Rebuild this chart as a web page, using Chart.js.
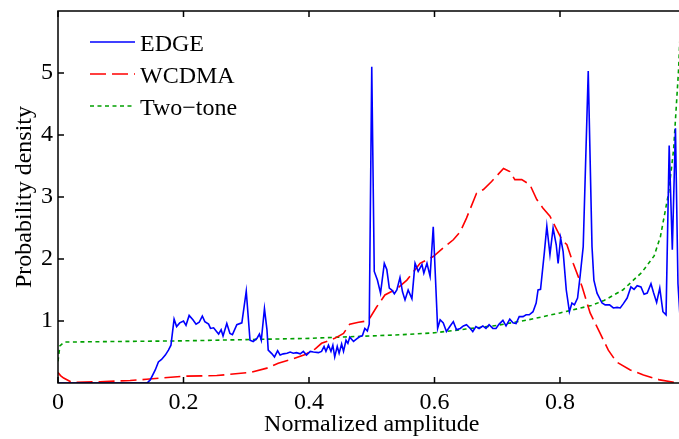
<!DOCTYPE html>
<html>
<head>
<meta charset="utf-8">
<script src="https://cdn.jsdelivr.net/npm/chart.js@4.4.1/dist/chart.umd.min.js"></script>
<style>
  html, body { margin: 0; padding: 0; background: #fff; overflow: hidden; width: 679px; height: 439px; }
  canvas { display: block; }
</style>
</head>
<body>
<canvas id="c" width="700" height="439"></canvas>
<script>
// Amplitude probability density of three test signals: [normalized amplitude, density]
const edgePdf = [
  [0, 0], [0.142, 0], [0.147, 0.05], [0.155, 0.21], [0.160, 0.34], [0.165, 0.38], [0.171, 0.45],
  [0.176, 0.53], [0.180, 0.61], [0.185, 1.03], [0.189, 0.91], [0.194, 0.97], [0.200, 1.00],
  [0.204, 0.93], [0.209, 1.09], [0.215, 1.02], [0.220, 0.95], [0.225, 0.98], [0.230, 1.08],
  [0.234, 0.99], [0.240, 0.95], [0.243, 0.88], [0.248, 0.89], [0.252, 0.84], [0.256, 0.79],
  [0.260, 0.86], [0.263, 0.76], [0.269, 0.96], [0.274, 0.80], [0.278, 0.78], [0.285, 0.94],
  [0.293, 0.97], [0.300, 1.48], [0.306, 0.69], [0.311, 0.67], [0.317, 0.72], [0.321, 0.79],
  [0.324, 0.69], [0.329, 1.20], [0.333, 0.86], [0.335, 0.53], [0.341, 0.47], [0.345, 0.42],
  [0.350, 0.52], [0.354, 0.45], [0.359, 0.47], [0.365, 0.48], [0.370, 0.50], [0.375, 0.48],
  [0.380, 0.49], [0.386, 0.47], [0.391, 0.51], [0.396, 0.45], [0.402, 0.51], [0.407, 0.50],
  [0.415, 0.49], [0.420, 0.51], [0.424, 0.59], [0.427, 0.51], [0.431, 0.61], [0.435, 0.51],
  [0.438, 0.61], [0.441, 0.42], [0.445, 0.59], [0.448, 0.48], [0.452, 0.63], [0.455, 0.51],
  [0.459, 0.69], [0.462, 0.64], [0.465, 0.74], [0.471, 0.67], [0.476, 0.71], [0.481, 0.75],
  [0.485, 0.76], [0.489, 0.88], [0.493, 0.84], [0.496, 0.95], [0.500, 5.10], [0.504, 1.80],
  [0.509, 1.66], [0.514, 1.45], [0.520, 1.93], [0.524, 1.83], [0.528, 1.53], [0.532, 1.50],
  [0.536, 1.44], [0.540, 1.50], [0.545, 1.70], [0.549, 1.47], [0.553, 1.34], [0.558, 1.50],
  [0.564, 1.36], [0.569, 1.93], [0.574, 1.80], [0.580, 1.91], [0.583, 1.77], [0.588, 1.93],
  [0.593, 1.72], [0.598, 2.52], [0.605, 0.88], [0.609, 1.02], [0.614, 0.97], [0.619, 0.83],
  [0.625, 0.92], [0.630, 0.99], [0.635, 0.86], [0.641, 0.88], [0.646, 0.92], [0.651, 0.94],
  [0.657, 0.88], [0.661, 0.83], [0.666, 0.91], [0.671, 0.88], [0.677, 0.92], [0.682, 0.88],
  [0.687, 0.94], [0.693, 0.88], [0.698, 0.88], [0.703, 0.95], [0.709, 1.01], [0.714, 0.92],
  [0.720, 1.03], [0.725, 0.97], [0.730, 0.96], [0.735, 1.07], [0.741, 1.07], [0.746, 1.10],
  [0.751, 1.10], [0.757, 1.15], [0.762, 1.29], [0.765, 1.50], [0.769, 1.51], [0.775, 2.10],
  [0.779, 2.53], [0.784, 2.07], [0.789, 2.50], [0.794, 2.23], [0.797, 1.93], [0.801, 2.34],
  [0.805, 2.12], [0.810, 1.50], [0.815, 1.15], [0.819, 1.29], [0.823, 1.26], [0.828, 1.37],
  [0.832, 1.72], [0.837, 2.20], [0.845, 5.03], [0.851, 2.20], [0.854, 1.66], [0.859, 1.45],
  [0.867, 1.29], [0.872, 1.26], [0.879, 1.26], [0.885, 1.21], [0.891, 1.22], [0.896, 1.21],
  [0.901, 1.28], [0.907, 1.37], [0.913, 1.55], [0.918, 1.51], [0.923, 1.57], [0.929, 1.55],
  [0.934, 1.43], [0.939, 1.45], [0.945, 1.60], [0.949, 1.46], [0.954, 1.30], [0.959, 1.53],
  [0.964, 1.15], [0.969, 1.10], [0.974, 3.83], [0.979, 2.15], [0.984, 4.11], [0.988, 1.60],
  [0.992, 0.95]
];

const wcdmaPdf = [
  [0, 0.17], [0.004, 0.12], [0.009, 0.08], [0.022, 0.01], [0.067, 0.02], [0.115, 0.04],
  [0.141, 0.06], [0.200, 0.11], [0.253, 0.12], [0.306, 0.17], [0.333, 0.24], [0.351, 0.32],
  [0.372, 0.38], [0.394, 0.46], [0.410, 0.55], [0.420, 0.64], [0.441, 0.72], [0.455, 0.80],
  [0.465, 0.95], [0.479, 0.98], [0.492, 1.00], [0.497, 1.05], [0.508, 1.23], [0.521, 1.42],
  [0.540, 1.52], [0.556, 1.66], [0.577, 1.93], [0.598, 2.04], [0.614, 2.18], [0.630, 2.31],
  [0.641, 2.44], [0.651, 2.66], [0.667, 3.06], [0.678, 3.12], [0.691, 3.25], [0.710, 3.46],
  [0.720, 3.41], [0.728, 3.28], [0.739, 3.28], [0.752, 3.20], [0.763, 2.96], [0.773, 2.82],
  [0.784, 2.69], [0.795, 2.47], [0.803, 2.31], [0.811, 2.23], [0.821, 1.93], [0.835, 1.56],
  [0.848, 1.13], [0.864, 0.80], [0.877, 0.53], [0.890, 0.34], [0.912, 0.21], [0.933, 0.13],
  [0.959, 0.05], [0.986, 0.005], [1.0, 0]
];

const twoTonePdf = [
  [0, 0.35], [0.003, 0.60], [0.010, 0.66], [0.100, 0.67], [0.200, 0.68], [0.300, 0.70],
  [0.400, 0.72], [0.450, 0.74], [0.500, 0.76], [0.550, 0.78], [0.600, 0.81], [0.650, 0.87],
  [0.700, 0.93], [0.750, 1.02], [0.800, 1.13], [0.850, 1.25], [0.870, 1.33], [0.900, 1.50],
  [0.930, 1.78], [0.950, 2.05], [0.960, 2.36], [0.973, 3.06], [0.981, 3.76], [0.986, 4.57],
  [0.989, 5.06], [0.995, 6.50]
];

const seriesNames = ['EDGE', 'WCDMA', 'Two\u2212tone'];
const xTickValues = [0, 0.2, 0.4, 0.6, 0.8, 1.0];
const xTickLabels = ['0', '0.2', '0.4', '0.6', '0.8', ''];
const yTickValues = [1, 2, 3, 4, 5];
const yTickLabels = ['1', '2', '3', '4', '5'];

const FONT = 'Liberation Serif, Times New Roman, serif';
Chart.defaults.font.family = FONT;
Chart.defaults.color = '#000';

const toPoints = arr => arr.map(([x, y]) => ({ x, y }));

const styles = [
  { color: '#0000ff', dash: [] },
  { color: '#ff0000', dash: [16, 6] },
  { color: '#00a000', dash: [4, 3.5] }
];

// Boxed axes with inward ticks on all four sides, plus the line legend
const framePlugin = {
  id: 'frame',
  afterDatasetsDraw(chart) {
    const { ctx, chartArea: a, scales: { x, y } } = chart;
    ctx.save();
    ctx.setLineDash([]);
    ctx.strokeStyle = '#000';
    ctx.lineWidth = 1.5;
    ctx.strokeRect(a.left, a.top, a.right - a.left, a.bottom - a.top);
    const len = 6;
    ctx.beginPath();
    xTickValues.forEach(v => {
      const px = x.getPixelForValue(v);
      ctx.moveTo(px, a.bottom); ctx.lineTo(px, a.bottom - len);
      ctx.moveTo(px, a.top); ctx.lineTo(px, a.top + len);
    });
    yTickValues.forEach(v => {
      const py = y.getPixelForValue(v);
      ctx.moveTo(a.left, py); ctx.lineTo(a.left + len, py);
      ctx.moveTo(a.right, py); ctx.lineTo(a.right - len, py);
    });
    ctx.stroke();

    // legend
    const lx0 = 90, lx1 = 135, tx = 140, row0 = 42, rowGap = 32;
    ctx.font = '24px ' + FONT;
    ctx.textAlign = 'left';
    ctx.textBaseline = 'alphabetic';
    chart.data.datasets.forEach((ds, i) => {
      const yy = row0 + i * rowGap;
      ctx.strokeStyle = ds.borderColor;
      ctx.lineWidth = ds.borderWidth;
      ctx.setLineDash(ds.borderDash || []);
      ctx.beginPath();
      ctx.moveTo(lx0, yy); ctx.lineTo(lx1, yy);
      ctx.stroke();
      ctx.setLineDash([]);
      ctx.fillStyle = '#000';
      ctx.fillText(ds.label, tx, yy + 9);
    });
    ctx.restore();
  }
};

const datasets = [edgePdf, wcdmaPdf, twoTonePdf].map((d, i) => ({
  label: seriesNames[i],
  data: toPoints(d),
  borderColor: styles[i].color,
  borderDash: styles[i].dash,
  borderWidth: 1.6,
  pointRadius: 0,
  tension: 0,
  fill: false
}));

new Chart(document.getElementById('c'), {
  type: 'line',
  data: { datasets },
  plugins: [framePlugin],
  options: {
    responsive: false,
    animation: false,
    devicePixelRatio: 1,
    layout: { padding: { left: 0, right: 14.5, top: 11, bottom: 0 } },
    plugins: { legend: { display: false }, tooltip: { enabled: false } },
    scales: {
      x: {
        type: 'linear', min: 0, max: 1,
        grid: { display: false, drawTicks: false },
        border: { display: false },
        afterBuildTicks: s => { s.ticks = xTickValues.map(v => ({ value: v })); },
        ticks: {
          autoSkip: false, maxRotation: 0, padding: 5,
          font: { size: 24 }, color: '#000',
          callback: (v, i) => xTickLabels[i]
        },
        title: { display: true, text: 'Normalized amplitude', font: { size: 24 }, color: '#000', padding: { top: 0, bottom: 0 } },
        afterFit: s => { s.height = 56; s.paddingLeft = 0; s.paddingRight = 0; }
      },
      y: {
        type: 'linear', min: 0, max: 6,
        grid: { display: false, drawTicks: false },
        border: { display: false },
        afterBuildTicks: s => { s.ticks = yTickValues.map(v => ({ value: v })); },
        ticks: {
          autoSkip: false, padding: 5,
          font: { size: 24 }, color: '#000',
          callback: (v, i) => yTickLabels[i]
        },
        title: { display: true, text: 'Probability density', font: { size: 24 }, color: '#000', padding: { top: 10, bottom: 0 } },
        afterFit: s => { s.width = 58; s.paddingTop = 0; s.paddingBottom = 0; }
      }
    }
  }
});
</script>
</body>
</html>
